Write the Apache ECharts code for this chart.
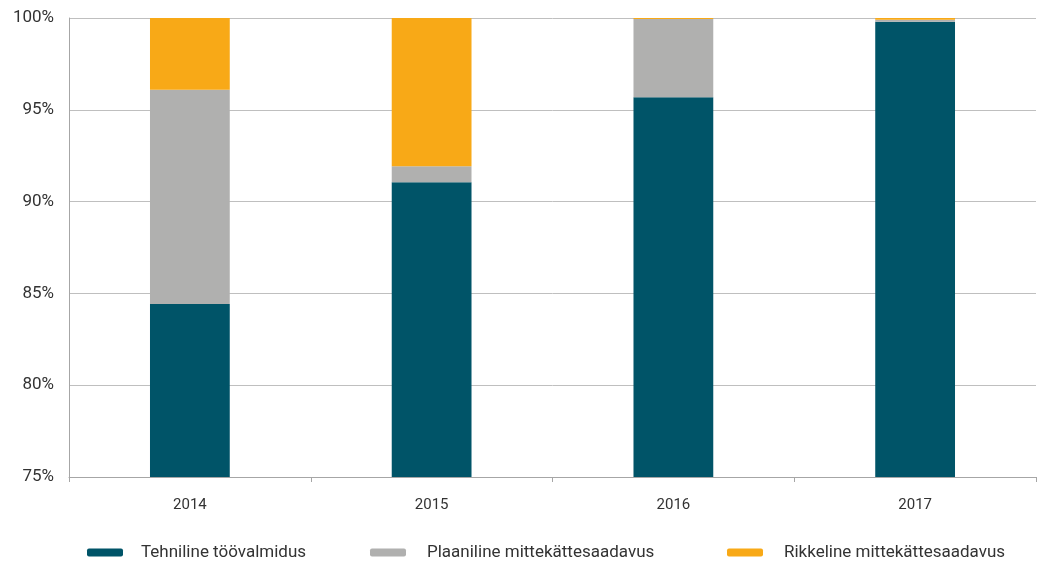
<!DOCTYPE html>
<html>
<head>
<meta charset="utf-8">
<script src="https://cdn.jsdelivr.net/npm/echarts@6/dist/echarts.min.js"></script>
<style>
  html, body { margin: 0; padding: 0; background: #fff; }
  #chart { width: 1041px; height: 561px; }
</style>
</head>
<body>
<div id="chart"></div>
<script>
// Availability by year, percent of total time
const years = ['2014', '2015', '2016', '2017'];
const technicalReadiness = [84.42, 91.06, 95.68, 99.8];
const plannedUnavailability = [11.67, 0.86, 4.26, 0.1];
const faultUnavailability = [3.91, 8.08, 0.06, 0.1];
const seriesNames = ['Tehniline töövalmidus', 'Plaaniline mittekättesaadavus', 'Rikkeline mittekättesaadavus'];
const seriesColors = ['#005468', '#b0b0af', '#f8a917'];

const font = '"Roboto", sans-serif';
const chart = echarts.init(document.getElementById('chart'));

const values = [technicalReadiness, plannedUnavailability, faultUnavailability];
const legendLefts = [87, 370, 727];
const legendTextGaps = [13, 16, 16];

chart.setOption({
  animation: false,
  grid: { left: 69, right: 5, top: 18, bottom: 84 },
  xAxis: {
    type: 'category',
    data: years,
    axisLine: { lineStyle: { color: '#a6a6a6', width: 1 } },
    axisTick: { show: true, length: 5, lineStyle: { color: '#a6a6a6' } },
    axisLabel: { color: '#333', fontSize: 15, fontFamily: font, margin: 21 }
  },
  yAxis: {
    type: 'value',
    min: 75, max: 100, interval: 5,
    axisLine: { show: true, lineStyle: { color: '#a6a6a6' } },
    axisTick: { show: false },
    splitLine: { lineStyle: { color: '#bfbfbf', width: 1 } },
    axisLabel: { color: '#333', fontSize: 17, fontFamily: font, margin: 15, formatter: '{value}%' }
  },
  legend: seriesNames.map((name, i) => ({
    data: [name],
    left: legendLefts[i],
    top: 544,
    padding: 0,
    icon: 'roundRect',
    itemWidth: 36,
    itemHeight: 8,
    itemGap: 0,
    textStyle: { color: '#333', fontSize: 17, fontFamily: font, padding: [0, 0, 0, legendTextGaps[i]] }
  })),
  series: seriesNames.map((name, i) => ({
    name: name,
    type: 'bar',
    stack: 'total',
    barWidth: '33%',
    itemStyle: { color: seriesColors[i] },
    data: values[i]
  }))
});
</script>
</body>
</html>
